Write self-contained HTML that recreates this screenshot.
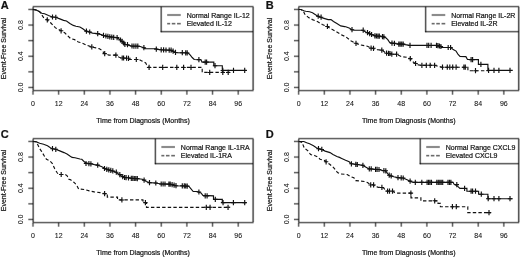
<!DOCTYPE html><html><head><meta charset="utf-8"><style>html,body{margin:0;padding:0;background:#fff;}svg{display:block;filter:grayscale(1);}text{font-family:"Liberation Sans", sans-serif;font-size:7px;fill:#111;stroke:#222;stroke-width:0.22px;}text.t{stroke-width:0.08px;}</style></head><body>
<svg width="520" height="257" viewBox="0 0 520 257">
<rect width="520" height="257" fill="#fff"/>
<g><rect x="28.3" y="86" width="4.85" height="1" fill="#000" fill-opacity="0.19"/><rect x="28.3" y="87" width="4.85" height="1" fill="#000" fill-opacity="0.61"/><rect x="28.3" y="88" width="4.85" height="1" fill="#000" fill-opacity="0.14"/><rect x="28.3" y="70" width="4.85" height="1" fill="#000" fill-opacity="0.05"/><rect x="28.3" y="71" width="4.85" height="1" fill="#000" fill-opacity="0.53"/><rect x="28.3" y="72" width="4.85" height="1" fill="#000" fill-opacity="0.36"/><rect x="28.3" y="55" width="4.85" height="1" fill="#000" fill-opacity="0.30"/><rect x="28.3" y="56" width="4.85" height="1" fill="#000" fill-opacity="0.57"/><rect x="28.3" y="57" width="4.85" height="1" fill="#000" fill-opacity="0.08"/><rect x="28.3" y="39" width="4.85" height="1" fill="#000" fill-opacity="0.11"/><rect x="28.3" y="40" width="4.85" height="1" fill="#000" fill-opacity="0.60"/><rect x="28.3" y="41" width="4.85" height="1" fill="#000" fill-opacity="0.24"/><rect x="28.3" y="23" width="4.85" height="1" fill="#000" fill-opacity="0.02"/><rect x="28.3" y="24" width="4.85" height="1" fill="#000" fill-opacity="0.42"/><rect x="28.3" y="25" width="4.85" height="1" fill="#000" fill-opacity="0.47"/><rect x="28.3" y="26" width="4.85" height="1" fill="#000" fill-opacity="0.04"/><rect x="28.3" y="8" width="4.85" height="1" fill="#000" fill-opacity="0.19"/><rect x="28.3" y="9" width="4.85" height="1" fill="#000" fill-opacity="0.61"/><rect x="28.3" y="10" width="4.85" height="1" fill="#000" fill-opacity="0.14"/><rect x="31" y="90.6" width="1" height="4.1" fill="#000" fill-opacity="0.03"/><rect x="32" y="90.6" width="1" height="4.1" fill="#000" fill-opacity="0.45"/><rect x="33" y="90.6" width="1" height="4.1" fill="#000" fill-opacity="0.45"/><rect x="34" y="90.6" width="1" height="4.1" fill="#000" fill-opacity="0.03"/><rect x="57" y="90.6" width="1" height="4.1" fill="#000" fill-opacity="0.11"/><rect x="58" y="90.6" width="1" height="4.1" fill="#000" fill-opacity="0.60"/><rect x="59" y="90.6" width="1" height="4.1" fill="#000" fill-opacity="0.24"/><rect x="83" y="90.6" width="1" height="4.1" fill="#000" fill-opacity="0.27"/><rect x="84" y="90.6" width="1" height="4.1" fill="#000" fill-opacity="0.58"/><rect x="85" y="90.6" width="1" height="4.1" fill="#000" fill-opacity="0.09"/><rect x="108" y="90.6" width="1" height="4.1" fill="#000" fill-opacity="0.04"/><rect x="109" y="90.6" width="1" height="4.1" fill="#000" fill-opacity="0.47"/><rect x="110" y="90.6" width="1" height="4.1" fill="#000" fill-opacity="0.42"/><rect x="111" y="90.6" width="1" height="4.1" fill="#000" fill-opacity="0.02"/><rect x="134" y="90.6" width="1" height="4.1" fill="#000" fill-opacity="0.13"/><rect x="135" y="90.6" width="1" height="4.1" fill="#000" fill-opacity="0.61"/><rect x="136" y="90.6" width="1" height="4.1" fill="#000" fill-opacity="0.21"/><rect x="160" y="90.6" width="1" height="4.1" fill="#000" fill-opacity="0.30"/><rect x="161" y="90.6" width="1" height="4.1" fill="#000" fill-opacity="0.57"/><rect x="162" y="90.6" width="1" height="4.1" fill="#000" fill-opacity="0.08"/><rect x="185" y="90.6" width="1" height="4.1" fill="#000" fill-opacity="0.04"/><rect x="186" y="90.6" width="1" height="4.1" fill="#000" fill-opacity="0.50"/><rect x="187" y="90.6" width="1" height="4.1" fill="#000" fill-opacity="0.39"/><rect x="211" y="90.6" width="1" height="4.1" fill="#000" fill-opacity="0.14"/><rect x="212" y="90.6" width="1" height="4.1" fill="#000" fill-opacity="0.61"/><rect x="213" y="90.6" width="1" height="4.1" fill="#000" fill-opacity="0.19"/><rect x="237" y="90.6" width="1" height="4.1" fill="#000" fill-opacity="0.33"/><rect x="238" y="90.6" width="1" height="4.1" fill="#000" fill-opacity="0.55"/><rect x="239" y="90.6" width="1" height="4.1" fill="#000" fill-opacity="0.06"/><rect x="161.17" y="6.6" width="91.93" height="25.1" fill="#fff"/><rect x="160" y="6.6" width="1" height="25.6" fill="#000" fill-opacity="0.38"/><rect x="161" y="6.6" width="1" height="25.6" fill="#000" fill-opacity="0.59"/><rect x="162" y="6.6" width="1" height="25.6" fill="#000" fill-opacity="0.06"/><rect x="160.67" y="30" width="92.43" height="1" fill="#000" fill-opacity="0.10"/><rect x="160.67" y="31" width="92.43" height="1" fill="#000" fill-opacity="0.61"/><rect x="160.67" y="32" width="92.43" height="1" fill="#000" fill-opacity="0.28"/><rect x="167.17" y="13" width="13.6" height="1" fill="#000" fill-opacity="0.03"/><rect x="167.17" y="14" width="13.6" height="1" fill="#000" fill-opacity="0.45"/><rect x="167.17" y="15" width="13.6" height="1" fill="#000" fill-opacity="0.45"/><rect x="167.17" y="16" width="13.6" height="1" fill="#000" fill-opacity="0.03"/><rect x="167.17" y="22" width="3" height="1" fill="#000" fill-opacity="0.09"/><rect x="167.17" y="23" width="3" height="1" fill="#000" fill-opacity="0.58"/><rect x="167.17" y="24" width="3" height="1" fill="#000" fill-opacity="0.27"/><rect x="171.77" y="22" width="3.6" height="1" fill="#000" fill-opacity="0.09"/><rect x="171.77" y="23" width="3.6" height="1" fill="#000" fill-opacity="0.58"/><rect x="171.77" y="24" width="3.6" height="1" fill="#000" fill-opacity="0.27"/><rect x="177.07" y="22" width="3.7" height="1" fill="#000" fill-opacity="0.09"/><rect x="177.07" y="23" width="3.7" height="1" fill="#000" fill-opacity="0.58"/><rect x="177.07" y="24" width="3.7" height="1" fill="#000" fill-opacity="0.27"/><rect x="32.65" y="5" width="220.95" height="1" fill="#000" fill-opacity="0.13"/><rect x="32.65" y="6" width="220.95" height="1" fill="#000" fill-opacity="0.61"/><rect x="32.65" y="7" width="220.95" height="1" fill="#000" fill-opacity="0.22"/><rect x="32.65" y="89" width="220.95" height="1" fill="#000" fill-opacity="0.13"/><rect x="32.65" y="90" width="220.95" height="1" fill="#000" fill-opacity="0.61"/><rect x="32.65" y="91" width="220.95" height="1" fill="#000" fill-opacity="0.22"/><rect x="32" y="7.1" width="1" height="83" fill="#000" fill-opacity="0.40"/><rect x="33" y="7.1" width="1" height="83" fill="#000" fill-opacity="0.58"/><rect x="34" y="7.1" width="1" height="83" fill="#000" fill-opacity="0.06"/><rect x="251" y="7.1" width="1" height="83" fill="#000" fill-opacity="0.02"/><rect x="252" y="7.1" width="1" height="83" fill="#000" fill-opacity="0.45"/><rect x="253" y="7.1" width="1" height="83" fill="#000" fill-opacity="0.58"/><rect x="254" y="7.1" width="1" height="83" fill="#000" fill-opacity="0.05"/></g>
<g><text x="0.8" y="9" style="font-size:11px;font-weight:bold">A</text><text transform="translate(23.3 87.45) rotate(-90)" text-anchor="middle" class="t">0.0</text><text transform="translate(23.3 56.25) rotate(-90)" text-anchor="middle" class="t">0.4</text><text transform="translate(23.3 25.05) rotate(-90)" text-anchor="middle" class="t">0.8</text><text x="33" y="105.7" text-anchor="middle" class="t">0</text><text x="58.65" y="105.7" text-anchor="middle" class="t">12</text><text x="84.3" y="105.7" text-anchor="middle" class="t">24</text><text x="109.95" y="105.7" text-anchor="middle" class="t">36</text><text x="135.6" y="105.7" text-anchor="middle" class="t">48</text><text x="161.25" y="105.7" text-anchor="middle" class="t">60</text><text x="186.9" y="105.7" text-anchor="middle" class="t">72</text><text x="212.55" y="105.7" text-anchor="middle" class="t">84</text><text x="238.2" y="105.7" text-anchor="middle" class="t">96</text><text x="143.1" y="122.5" text-anchor="middle">Time from Diagnosis (Months)</text><text transform="translate(6.3 48.5) rotate(-90)" text-anchor="middle">Event-Free Survival</text><text x="186.67" y="17.5">Normal Range IL-12</text><text x="186.67" y="26.1">Elevated IL-12</text><path d="M33 9.45 L35.8 9.9 L38.8 11.3 L39.7 11.8 L43.6 17.6 L47 19.8 L50.4 22.5 L55.5 27.9 L60.8 30.5 L64.7 32.8 L70.6 38.6 L74.5 39.6 L78.3 42 L82.2 43 L87.1 45.4 L91.5 46.9 L95.9 47.9 L99 48.6 L101.5 50 L104.4 53.4 L108.8 55.1 L112.6 55.1 L115.6 55.1 L119.5 57.5 L123.3 58 L128.2 58.3 L129.2 59.5 L138.9 59.5 L141.8 60.9 L145.7 62.9 L146.5 64.5 L148.8 67.4 L202.2 67.4 L202.2 72.4 L230.8 72.4" fill="none" stroke="#111" stroke-width="1.15" stroke-dasharray="3.4 2.2"/><path d="M47.3 17.2v5.2M61.1 28.2v5.2M91.8 44.3v5.2M104.7 51v5.2M115.9 52.5v5.2M122.2 55.4v5.2M123.6 55.4v5.2M126.6 55.6v5.2M128.5 55.7v5.2M136.3 56.9v5.2M149.1 64.8v5.2M162.7 64.8v5.2M176.8 64.8v5.2M183.6 64.8v5.2M191 64.8v5.2M209.7 69.8v5.2M222.8 69.8v5.2M228.2 69.8v5.2" fill="none" stroke="#111" stroke-width="1.15"/><path d="M45.1 19.8h4.4M58.9 30.8h4.4M89.6 46.9h4.4M102.5 53.6h4.4M113.7 55.1h4.4M120 58h4.4M121.4 58h4.4M124.4 58.2h4.4M126.3 58.3h4.4M134.1 59.5h4.4M146.9 67.4h4.4M160.5 67.4h4.4M174.6 67.4h4.4M181.4 67.4h4.4M188.8 67.4h4.4M207.5 72.4h4.4M220.6 72.4h4.4M226 72.4h4.4" fill="none" stroke="#111" stroke-width="1.05"/><path d="M33 9.45 L35.8 9.9 L38.8 11.3 L41.7 13.3 L44.6 13.8 L48.5 15.5 L52.2 17 L55.5 17.3 L59.2 18.6 L63.6 20.4 L66.5 21 L69.9 23.5 L73.3 25.4 L76 26.2 L79.9 27 L82.8 28.8 L85.7 30.9 L89.4 32 L92.5 33.1 L97.4 33.6 L101.3 34.6 L103.6 35.5 L108 36.5 L113.9 37.3 L116.8 37.6 L119.7 39.5 L122.9 42.3 L124.9 44.2 L126.8 44.6 L131 46 L139.5 46.2 L142.4 47.2 L145.3 48.6 L156 48.8 L157 49.4 L160.9 49.8 L165 50 L170.8 50.2 L172.8 51.2 L174.7 52.2 L176.7 52.6 L188.3 53 L190.3 55.1 L192.2 57.5 L194.2 59.5 L201 59.8 L202 62.1 L213.8 62.1 L213.8 65.7 L222.3 65.7 L222.3 70.4 L246.8 70.4" fill="none" stroke="#111" stroke-width="1.15"/><path d="M52.5 14.4v5.2M55.8 14.7v5.2M86.4 28.6v5.2M89.7 29.4v5.2M97.7 31v5.2M103.5 32.8v5.2M105.9 33.4v5.2M107.9 33.8v5.2M109.8 34.2v5.2M111.8 34.5v5.2M113.7 34.7v5.2M117.1 35v5.2M120.5 37.4v5.2M122.1 38.8v5.2M123.7 40.4v5.2M124.9 41.8v5.2M127.5 42.1v5.2M132 43.4v5.2M133.9 43.5v5.2M135.9 43.5v5.2M137.8 43.6v5.2M143.9 45.1v5.2M156.3 46.5v5.2M161.2 47.2v5.2M163.6 47.3v5.2M166 47.4v5.2M169.2 47.5v5.2M171.1 47.6v5.2M173.1 48.6v5.2M175.5 49.8v5.2M182.3 50.1v5.2M185.7 50.2v5.2M187.2 50.3v5.2M198.9 57v5.2M205.2 59.5v5.2M206.6 59.5v5.2M215 63.1v5.2M222.8 67.8v5.2M233.5 67.8v5.2M244.7 67.8v5.2" fill="none" stroke="#111" stroke-width="1.15"/><path d="M50.3 17h4.4M53.6 17.3h4.4M84.2 31.2h4.4M87.5 32h4.4M95.5 33.6h4.4M101.3 35.4h4.4M103.7 36h4.4M105.7 36.4h4.4M107.6 36.8h4.4M109.6 37.1h4.4M111.5 37.3h4.4M114.9 37.6h4.4M118.3 40h4.4M119.9 41.4h4.4M121.5 43h4.4M122.7 44.4h4.4M125.3 44.7h4.4M129.8 46h4.4M131.7 46.1h4.4M133.7 46.1h4.4M135.6 46.2h4.4M141.7 47.7h4.4M154.1 49.1h4.4M159 49.8h4.4M161.4 49.9h4.4M163.8 50h4.4M167 50.1h4.4M168.9 50.2h4.4M170.9 51.2h4.4M173.3 52.4h4.4M180.1 52.7h4.4M183.5 52.8h4.4M185 52.9h4.4M196.7 59.6h4.4M203 62.1h4.4M204.4 62.1h4.4M212.8 65.7h4.4M220.6 70.4h4.4M231.3 70.4h4.4M242.5 70.4h4.4" fill="none" stroke="#111" stroke-width="1.05"/></g>
<g><rect x="293.95" y="86" width="4.85" height="1" fill="#000" fill-opacity="0.19"/><rect x="293.95" y="87" width="4.85" height="1" fill="#000" fill-opacity="0.61"/><rect x="293.95" y="88" width="4.85" height="1" fill="#000" fill-opacity="0.14"/><rect x="293.95" y="70" width="4.85" height="1" fill="#000" fill-opacity="0.05"/><rect x="293.95" y="71" width="4.85" height="1" fill="#000" fill-opacity="0.53"/><rect x="293.95" y="72" width="4.85" height="1" fill="#000" fill-opacity="0.36"/><rect x="293.95" y="55" width="4.85" height="1" fill="#000" fill-opacity="0.30"/><rect x="293.95" y="56" width="4.85" height="1" fill="#000" fill-opacity="0.57"/><rect x="293.95" y="57" width="4.85" height="1" fill="#000" fill-opacity="0.08"/><rect x="293.95" y="39" width="4.85" height="1" fill="#000" fill-opacity="0.11"/><rect x="293.95" y="40" width="4.85" height="1" fill="#000" fill-opacity="0.60"/><rect x="293.95" y="41" width="4.85" height="1" fill="#000" fill-opacity="0.24"/><rect x="293.95" y="23" width="4.85" height="1" fill="#000" fill-opacity="0.02"/><rect x="293.95" y="24" width="4.85" height="1" fill="#000" fill-opacity="0.42"/><rect x="293.95" y="25" width="4.85" height="1" fill="#000" fill-opacity="0.47"/><rect x="293.95" y="26" width="4.85" height="1" fill="#000" fill-opacity="0.04"/><rect x="293.95" y="8" width="4.85" height="1" fill="#000" fill-opacity="0.19"/><rect x="293.95" y="9" width="4.85" height="1" fill="#000" fill-opacity="0.61"/><rect x="293.95" y="10" width="4.85" height="1" fill="#000" fill-opacity="0.14"/><rect x="297" y="90.6" width="1" height="4.1" fill="#000" fill-opacity="0.11"/><rect x="298" y="90.6" width="1" height="4.1" fill="#000" fill-opacity="0.60"/><rect x="299" y="90.6" width="1" height="4.1" fill="#000" fill-opacity="0.24"/><rect x="323" y="90.6" width="1" height="4.1" fill="#000" fill-opacity="0.27"/><rect x="324" y="90.6" width="1" height="4.1" fill="#000" fill-opacity="0.58"/><rect x="325" y="90.6" width="1" height="4.1" fill="#000" fill-opacity="0.09"/><rect x="348" y="90.6" width="1" height="4.1" fill="#000" fill-opacity="0.04"/><rect x="349" y="90.6" width="1" height="4.1" fill="#000" fill-opacity="0.47"/><rect x="350" y="90.6" width="1" height="4.1" fill="#000" fill-opacity="0.42"/><rect x="351" y="90.6" width="1" height="4.1" fill="#000" fill-opacity="0.02"/><rect x="374" y="90.6" width="1" height="4.1" fill="#000" fill-opacity="0.13"/><rect x="375" y="90.6" width="1" height="4.1" fill="#000" fill-opacity="0.61"/><rect x="376" y="90.6" width="1" height="4.1" fill="#000" fill-opacity="0.21"/><rect x="400" y="90.6" width="1" height="4.1" fill="#000" fill-opacity="0.30"/><rect x="401" y="90.6" width="1" height="4.1" fill="#000" fill-opacity="0.57"/><rect x="402" y="90.6" width="1" height="4.1" fill="#000" fill-opacity="0.08"/><rect x="425" y="90.6" width="1" height="4.1" fill="#000" fill-opacity="0.04"/><rect x="426" y="90.6" width="1" height="4.1" fill="#000" fill-opacity="0.50"/><rect x="427" y="90.6" width="1" height="4.1" fill="#000" fill-opacity="0.39"/><rect x="451" y="90.6" width="1" height="4.1" fill="#000" fill-opacity="0.14"/><rect x="452" y="90.6" width="1" height="4.1" fill="#000" fill-opacity="0.61"/><rect x="453" y="90.6" width="1" height="4.1" fill="#000" fill-opacity="0.19"/><rect x="477" y="90.6" width="1" height="4.1" fill="#000" fill-opacity="0.33"/><rect x="478" y="90.6" width="1" height="4.1" fill="#000" fill-opacity="0.55"/><rect x="479" y="90.6" width="1" height="4.1" fill="#000" fill-opacity="0.06"/><rect x="502" y="90.6" width="1" height="4.1" fill="#000" fill-opacity="0.05"/><rect x="503" y="90.6" width="1" height="4.1" fill="#000" fill-opacity="0.53"/><rect x="504" y="90.6" width="1" height="4.1" fill="#000" fill-opacity="0.36"/><rect x="425.66" y="6.6" width="93.09" height="25.1" fill="#fff"/><rect x="424" y="6.6" width="1" height="25.6" fill="#000" fill-opacity="0.11"/><rect x="425" y="6.6" width="1" height="25.6" fill="#000" fill-opacity="0.66"/><rect x="426" y="6.6" width="1" height="25.6" fill="#000" fill-opacity="0.27"/><rect x="425.16" y="30" width="93.59" height="1" fill="#000" fill-opacity="0.10"/><rect x="425.16" y="31" width="93.59" height="1" fill="#000" fill-opacity="0.61"/><rect x="425.16" y="32" width="93.59" height="1" fill="#000" fill-opacity="0.28"/><rect x="431.66" y="13" width="13.6" height="1" fill="#000" fill-opacity="0.03"/><rect x="431.66" y="14" width="13.6" height="1" fill="#000" fill-opacity="0.45"/><rect x="431.66" y="15" width="13.6" height="1" fill="#000" fill-opacity="0.45"/><rect x="431.66" y="16" width="13.6" height="1" fill="#000" fill-opacity="0.03"/><rect x="431.66" y="22" width="3" height="1" fill="#000" fill-opacity="0.09"/><rect x="431.66" y="23" width="3" height="1" fill="#000" fill-opacity="0.58"/><rect x="431.66" y="24" width="3" height="1" fill="#000" fill-opacity="0.27"/><rect x="436.26" y="22" width="3.6" height="1" fill="#000" fill-opacity="0.09"/><rect x="436.26" y="23" width="3.6" height="1" fill="#000" fill-opacity="0.58"/><rect x="436.26" y="24" width="3.6" height="1" fill="#000" fill-opacity="0.27"/><rect x="441.56" y="22" width="3.7" height="1" fill="#000" fill-opacity="0.09"/><rect x="441.56" y="23" width="3.7" height="1" fill="#000" fill-opacity="0.58"/><rect x="441.56" y="24" width="3.7" height="1" fill="#000" fill-opacity="0.27"/><rect x="298.3" y="5" width="220.95" height="1" fill="#000" fill-opacity="0.13"/><rect x="298.3" y="6" width="220.95" height="1" fill="#000" fill-opacity="0.61"/><rect x="298.3" y="7" width="220.95" height="1" fill="#000" fill-opacity="0.22"/><rect x="298.3" y="89" width="220.95" height="1" fill="#000" fill-opacity="0.13"/><rect x="298.3" y="90" width="220.95" height="1" fill="#000" fill-opacity="0.61"/><rect x="298.3" y="91" width="220.95" height="1" fill="#000" fill-opacity="0.22"/><rect x="297" y="7.1" width="1" height="83" fill="#000" fill-opacity="0.07"/><rect x="298" y="7.1" width="1" height="83" fill="#000" fill-opacity="0.60"/><rect x="299" y="7.1" width="1" height="83" fill="#000" fill-opacity="0.36"/><rect x="517" y="7.1" width="1" height="83" fill="#000" fill-opacity="0.09"/><rect x="518" y="7.1" width="1" height="83" fill="#000" fill-opacity="0.66"/><rect x="519" y="7.1" width="1" height="83" fill="#000" fill-opacity="0.35"/></g>
<g><text x="265.85" y="9" style="font-size:11px;font-weight:bold">B</text><text transform="translate(288.95 87.45) rotate(-90)" text-anchor="middle" class="t">0.0</text><text transform="translate(288.95 56.25) rotate(-90)" text-anchor="middle" class="t">0.4</text><text transform="translate(288.95 25.05) rotate(-90)" text-anchor="middle" class="t">0.8</text><text x="298.65" y="105.7" text-anchor="middle" class="t">0</text><text x="324.3" y="105.7" text-anchor="middle" class="t">12</text><text x="349.95" y="105.7" text-anchor="middle" class="t">24</text><text x="375.6" y="105.7" text-anchor="middle" class="t">36</text><text x="401.25" y="105.7" text-anchor="middle" class="t">48</text><text x="426.9" y="105.7" text-anchor="middle" class="t">60</text><text x="452.55" y="105.7" text-anchor="middle" class="t">72</text><text x="478.2" y="105.7" text-anchor="middle" class="t">84</text><text x="503.85" y="105.7" text-anchor="middle" class="t">96</text><text x="408.75" y="122.5" text-anchor="middle">Time from Diagnosis (Months)</text><text transform="translate(271.95 48.5) rotate(-90)" text-anchor="middle">Event-Free Survival</text><text x="451.16" y="17.5">Normal Range IL-2R</text><text x="451.16" y="26.1">Elevated IL-2R</text><path d="M298.9 9.45 L300.9 9.5 L303.3 11 L304.8 14.2 L308.6 17.6 L312.5 19.6 L317.4 21.5 L322.3 24.5 L327.1 26.4 L332 29.3 L336 31.5 L341 34.6 L346 36.9 L350.8 40.8 L355.7 43.3 L359.6 44.7 L367.4 46.2 L370.8 48.1 L377.1 49.6 L381.5 50.1 L383.9 51.5 L386.3 53.2 L390.7 53.5 L393.6 54.2 L396.3 54.2 L401.7 56.7 L406.5 57.2 L410 58.6 L412.4 61.5 L415.3 63.5 L418.2 64.9 L421.6 65.3 L434.4 65.3 L437.8 66.2 L442.2 67.2 L467.9 67.2 L467.9 70.7 L488 70.7" fill="none" stroke="#111" stroke-width="1.15" stroke-dasharray="3.4 2.2"/><path d="M327.4 23.8v5.2M356 40.7v5.2M371.1 45.5v5.2M373.5 45.7v5.2M381.8 47.5v5.2M386.6 50.6v5.2M388.6 50.8v5.2M390 50.9v5.2M391.8 51.6v5.2M396.6 51.6v5.2M410.3 56v5.2M415.6 60.9v5.2M421.9 62.7v5.2M426.3 62.7v5.2M430.2 62.7v5.2M434.6 62.7v5.2M442.5 64.6v5.2M447.3 64.6v5.2M449.8 64.6v5.2M452.7 64.6v5.2M456.1 64.6v5.2M463.9 64.6v5.2M465.3 64.6v5.2M475.5 68.1v5.2" fill="none" stroke="#111" stroke-width="1.15"/><path d="M325.2 26.4h4.4M353.8 43.3h4.4M368.9 48.1h4.4M371.3 48.3h4.4M379.6 50.1h4.4M384.4 53.2h4.4M386.4 53.4h4.4M387.8 53.5h4.4M389.6 54.2h4.4M394.4 54.2h4.4M408.1 58.6h4.4M413.4 63.5h4.4M419.7 65.3h4.4M424.1 65.3h4.4M428 65.3h4.4M432.4 65.3h4.4M440.3 67.2h4.4M445.1 67.2h4.4M447.6 67.2h4.4M450.5 67.2h4.4M453.9 67.2h4.4M461.7 67.2h4.4M463.1 67.2h4.4M473.3 70.7h4.4" fill="none" stroke="#111" stroke-width="1.05"/><path d="M298.9 9.45 L300.9 9.5 L303.8 10.8 L305.7 11.3 L309.6 11.8 L312.5 12.8 L315.5 14.7 L317.9 16.2 L320.8 17.2 L323.2 18.1 L328.1 19.6 L331 19.6 L333.5 21.5 L336.9 23.5 L340.7 25.9 L344.6 26.6 L345.8 26.8 L349.7 28.3 L351.7 29.7 L354.6 30.2 L362.4 30.2 L366.3 32.2 L369.2 33.6 L373.1 35.1 L375.5 36 L380.9 36.2 L382.8 36.8 L385.8 37.8 L387.8 39.7 L389.7 42.6 L391.7 43.1 L396 43.6 L402.9 44.1 L405.3 44.6 L409.7 45.4 L436 45.4 L440.6 46.5 L441.5 47.5 L451 47.5 L453.2 49.6 L456.1 51.1 L458.1 54.5 L460 56.4 L465.9 56.6 L467.5 59.5 L478.4 59.6 L478.4 64.4 L487.9 64.4 L487.9 70.4 L512.7 70.4" fill="none" stroke="#111" stroke-width="1.15"/><path d="M318.2 13.6v5.2M321.1 14.6v5.2M352 27.1v5.2M363.2 27.6v5.2M367.5 30v5.2M369.7 31.1v5.2M371.6 31.9v5.2M374.9 33.2v5.2M376.4 33.4v5.2M377.9 33.5v5.2M379.3 33.5v5.2M382.5 34v5.2M383.9 34.3v5.2M392 40.5v5.2M394.4 40.7v5.2M398.8 41.5v5.2M400.2 41.5v5.2M401.7 41.5v5.2M403.2 41.5v5.2M410 42.8v5.2M427 42.8v5.2M428.7 42.8v5.2M431.1 42.8v5.2M436.5 42.8v5.2M437.9 43v5.2M439.4 43.4v5.2M440.9 43.9v5.2M448.2 44.9v5.2M450.6 44.9v5.2M471.1 57v5.2M472.6 57v5.2M480.9 61.8v5.2M488.6 67.8v5.2M494 67.8v5.2M498.9 67.8v5.2M510 67.8v5.2" fill="none" stroke="#111" stroke-width="1.15"/><path d="M316 16.2h4.4M318.9 17.2h4.4M349.8 29.7h4.4M361 30.2h4.4M365.3 32.6h4.4M367.5 33.7h4.4M369.4 34.5h4.4M372.7 35.8h4.4M374.2 36h4.4M375.7 36.1h4.4M377.1 36.1h4.4M380.3 36.6h4.4M381.7 36.9h4.4M389.8 43.1h4.4M392.2 43.3h4.4M396.6 44.1h4.4M398 44.1h4.4M399.5 44.1h4.4M401 44.1h4.4M407.8 45.4h4.4M424.8 45.4h4.4M426.5 45.4h4.4M428.9 45.4h4.4M434.3 45.4h4.4M435.7 45.6h4.4M437.2 46h4.4M438.7 46.5h4.4M446 47.5h4.4M448.4 47.5h4.4M468.9 59.6h4.4M470.4 59.6h4.4M478.7 64.4h4.4M486.4 70.4h4.4M491.8 70.4h4.4M496.7 70.4h4.4M507.8 70.4h4.4" fill="none" stroke="#111" stroke-width="1.05"/></g>
<g><rect x="28.3" y="218" width="4.85" height="1" fill="#000" fill-opacity="0.19"/><rect x="28.3" y="219" width="4.85" height="1" fill="#000" fill-opacity="0.61"/><rect x="28.3" y="220" width="4.85" height="1" fill="#000" fill-opacity="0.14"/><rect x="28.3" y="202" width="4.85" height="1" fill="#000" fill-opacity="0.05"/><rect x="28.3" y="203" width="4.85" height="1" fill="#000" fill-opacity="0.53"/><rect x="28.3" y="204" width="4.85" height="1" fill="#000" fill-opacity="0.36"/><rect x="28.3" y="187" width="4.85" height="1" fill="#000" fill-opacity="0.30"/><rect x="28.3" y="188" width="4.85" height="1" fill="#000" fill-opacity="0.57"/><rect x="28.3" y="189" width="4.85" height="1" fill="#000" fill-opacity="0.08"/><rect x="28.3" y="171" width="4.85" height="1" fill="#000" fill-opacity="0.11"/><rect x="28.3" y="172" width="4.85" height="1" fill="#000" fill-opacity="0.60"/><rect x="28.3" y="173" width="4.85" height="1" fill="#000" fill-opacity="0.24"/><rect x="28.3" y="155" width="4.85" height="1" fill="#000" fill-opacity="0.02"/><rect x="28.3" y="156" width="4.85" height="1" fill="#000" fill-opacity="0.42"/><rect x="28.3" y="157" width="4.85" height="1" fill="#000" fill-opacity="0.47"/><rect x="28.3" y="158" width="4.85" height="1" fill="#000" fill-opacity="0.04"/><rect x="28.3" y="140" width="4.85" height="1" fill="#000" fill-opacity="0.19"/><rect x="28.3" y="141" width="4.85" height="1" fill="#000" fill-opacity="0.61"/><rect x="28.3" y="142" width="4.85" height="1" fill="#000" fill-opacity="0.14"/><rect x="31" y="222.6" width="1" height="4.1" fill="#000" fill-opacity="0.03"/><rect x="32" y="222.6" width="1" height="4.1" fill="#000" fill-opacity="0.45"/><rect x="33" y="222.6" width="1" height="4.1" fill="#000" fill-opacity="0.45"/><rect x="34" y="222.6" width="1" height="4.1" fill="#000" fill-opacity="0.03"/><rect x="57" y="222.6" width="1" height="4.1" fill="#000" fill-opacity="0.11"/><rect x="58" y="222.6" width="1" height="4.1" fill="#000" fill-opacity="0.60"/><rect x="59" y="222.6" width="1" height="4.1" fill="#000" fill-opacity="0.24"/><rect x="83" y="222.6" width="1" height="4.1" fill="#000" fill-opacity="0.27"/><rect x="84" y="222.6" width="1" height="4.1" fill="#000" fill-opacity="0.58"/><rect x="85" y="222.6" width="1" height="4.1" fill="#000" fill-opacity="0.09"/><rect x="108" y="222.6" width="1" height="4.1" fill="#000" fill-opacity="0.04"/><rect x="109" y="222.6" width="1" height="4.1" fill="#000" fill-opacity="0.47"/><rect x="110" y="222.6" width="1" height="4.1" fill="#000" fill-opacity="0.42"/><rect x="111" y="222.6" width="1" height="4.1" fill="#000" fill-opacity="0.02"/><rect x="134" y="222.6" width="1" height="4.1" fill="#000" fill-opacity="0.13"/><rect x="135" y="222.6" width="1" height="4.1" fill="#000" fill-opacity="0.61"/><rect x="136" y="222.6" width="1" height="4.1" fill="#000" fill-opacity="0.21"/><rect x="160" y="222.6" width="1" height="4.1" fill="#000" fill-opacity="0.30"/><rect x="161" y="222.6" width="1" height="4.1" fill="#000" fill-opacity="0.57"/><rect x="162" y="222.6" width="1" height="4.1" fill="#000" fill-opacity="0.08"/><rect x="185" y="222.6" width="1" height="4.1" fill="#000" fill-opacity="0.04"/><rect x="186" y="222.6" width="1" height="4.1" fill="#000" fill-opacity="0.50"/><rect x="187" y="222.6" width="1" height="4.1" fill="#000" fill-opacity="0.39"/><rect x="211" y="222.6" width="1" height="4.1" fill="#000" fill-opacity="0.14"/><rect x="212" y="222.6" width="1" height="4.1" fill="#000" fill-opacity="0.61"/><rect x="213" y="222.6" width="1" height="4.1" fill="#000" fill-opacity="0.19"/><rect x="237" y="222.6" width="1" height="4.1" fill="#000" fill-opacity="0.33"/><rect x="238" y="222.6" width="1" height="4.1" fill="#000" fill-opacity="0.55"/><rect x="239" y="222.6" width="1" height="4.1" fill="#000" fill-opacity="0.06"/><rect x="155.34" y="138.6" width="97.76" height="25.1" fill="#fff"/><rect x="154" y="138.6" width="1" height="25.6" fill="#000" fill-opacity="0.27"/><rect x="155" y="138.6" width="1" height="25.6" fill="#000" fill-opacity="0.66"/><rect x="156" y="138.6" width="1" height="25.6" fill="#000" fill-opacity="0.12"/><rect x="154.84" y="162" width="98.26" height="1" fill="#000" fill-opacity="0.10"/><rect x="154.84" y="163" width="98.26" height="1" fill="#000" fill-opacity="0.61"/><rect x="154.84" y="164" width="98.26" height="1" fill="#000" fill-opacity="0.28"/><rect x="161.34" y="145" width="13.6" height="1" fill="#000" fill-opacity="0.03"/><rect x="161.34" y="146" width="13.6" height="1" fill="#000" fill-opacity="0.45"/><rect x="161.34" y="147" width="13.6" height="1" fill="#000" fill-opacity="0.45"/><rect x="161.34" y="148" width="13.6" height="1" fill="#000" fill-opacity="0.03"/><rect x="161.34" y="154" width="3" height="1" fill="#000" fill-opacity="0.09"/><rect x="161.34" y="155" width="3" height="1" fill="#000" fill-opacity="0.58"/><rect x="161.34" y="156" width="3" height="1" fill="#000" fill-opacity="0.27"/><rect x="165.94" y="154" width="3.6" height="1" fill="#000" fill-opacity="0.09"/><rect x="165.94" y="155" width="3.6" height="1" fill="#000" fill-opacity="0.58"/><rect x="165.94" y="156" width="3.6" height="1" fill="#000" fill-opacity="0.27"/><rect x="171.24" y="154" width="3.7" height="1" fill="#000" fill-opacity="0.09"/><rect x="171.24" y="155" width="3.7" height="1" fill="#000" fill-opacity="0.58"/><rect x="171.24" y="156" width="3.7" height="1" fill="#000" fill-opacity="0.27"/><rect x="32.65" y="137" width="220.95" height="1" fill="#000" fill-opacity="0.13"/><rect x="32.65" y="138" width="220.95" height="1" fill="#000" fill-opacity="0.61"/><rect x="32.65" y="139" width="220.95" height="1" fill="#000" fill-opacity="0.22"/><rect x="32.65" y="221" width="220.95" height="1" fill="#000" fill-opacity="0.13"/><rect x="32.65" y="222" width="220.95" height="1" fill="#000" fill-opacity="0.61"/><rect x="32.65" y="223" width="220.95" height="1" fill="#000" fill-opacity="0.22"/><rect x="32" y="139.1" width="1" height="83" fill="#000" fill-opacity="0.40"/><rect x="33" y="139.1" width="1" height="83" fill="#000" fill-opacity="0.58"/><rect x="34" y="139.1" width="1" height="83" fill="#000" fill-opacity="0.06"/><rect x="251" y="139.1" width="1" height="83" fill="#000" fill-opacity="0.02"/><rect x="252" y="139.1" width="1" height="83" fill="#000" fill-opacity="0.45"/><rect x="253" y="139.1" width="1" height="83" fill="#000" fill-opacity="0.58"/><rect x="254" y="139.1" width="1" height="83" fill="#000" fill-opacity="0.05"/></g>
<g><text x="0.8" y="137.8" style="font-size:11px;font-weight:bold">C</text><text transform="translate(23.3 219.45) rotate(-90)" text-anchor="middle" class="t">0.0</text><text transform="translate(23.3 188.25) rotate(-90)" text-anchor="middle" class="t">0.4</text><text transform="translate(23.3 157.05) rotate(-90)" text-anchor="middle" class="t">0.8</text><text x="33" y="237.7" text-anchor="middle" class="t">0</text><text x="58.65" y="237.7" text-anchor="middle" class="t">12</text><text x="84.3" y="237.7" text-anchor="middle" class="t">24</text><text x="109.95" y="237.7" text-anchor="middle" class="t">36</text><text x="135.6" y="237.7" text-anchor="middle" class="t">48</text><text x="161.25" y="237.7" text-anchor="middle" class="t">60</text><text x="186.9" y="237.7" text-anchor="middle" class="t">72</text><text x="212.55" y="237.7" text-anchor="middle" class="t">84</text><text x="238.2" y="237.7" text-anchor="middle" class="t">96</text><text x="143.1" y="254.5" text-anchor="middle">Time from Diagnosis (Months)</text><text transform="translate(6.3 180.5) rotate(-90)" text-anchor="middle">Event-Free Survival</text><text x="180.84" y="149.5">Normal Range IL-1RA</text><text x="180.84" y="158.1">Elevated IL-1RA</text><path d="M33 141.45 L35.8 141.6 L37.8 144.8 L39.7 148.7 L41.7 151.6 L44.6 156.5 L46.5 159.4 L49.7 160.8 L52.2 163.3 L54.6 168.6 L57 172.5 L58.5 174.5 L65.3 174.5 L67.2 175.9 L68.9 179.2 L70.2 179.6 L73.8 182.2 L76.7 185.1 L78.6 189 L84.5 189.5 L89.3 190.9 L94.2 191.9 L100 192.6 L104.3 193.6 L107.3 193.6 L107.3 197.1 L117.5 197.1 L117.5 199.9 L142.9 199.9 L143.3 202.6 L146.5 202.6 L146.5 207.3 L230 207.3" fill="none" stroke="#111" stroke-width="1.15" stroke-dasharray="3.4 2.2"/><path d="M61.2 171.9v5.2M104.6 191v5.2M121.9 197.3v5.2M145.4 200v5.2M206.3 204.7v5.2M210.05 204.7v5.2M228.05 204.7v5.2" fill="none" stroke="#111" stroke-width="1.15"/><path d="M59 174.5h4.4M102.4 193.6h4.4M119.7 199.9h4.4M143.2 202.6h4.4M204.1 207.3h4.4M207.85 207.3h4.4M225.85 207.3h4.4" fill="none" stroke="#111" stroke-width="1.05"/><path d="M33 141.45 L35.8 141.6 L39.7 143.3 L43.6 144.3 L47.5 145.8 L50.4 147.7 L52.2 148.7 L55.5 149.3 L59.2 150.6 L64 152.6 L67 154 L69.9 156 L72.1 157.4 L75 157.8 L79.9 159 L81.8 159.3 L84.7 162.2 L88.6 163.6 L90.6 163.8 L94.5 164.6 L97.4 165.1 L101.3 166.5 L104.2 168 L108 169.6 L113.6 171.2 L116 172.2 L119.5 174.6 L122.4 176.6 L124.3 177.5 L128.2 177.8 L131 178.3 L137 178.6 L138.5 178.7 L142.4 179.2 L143.8 180.1 L146.3 181.6 L149.2 182.6 L155.5 183 L160.9 184 L168.6 184.1 L171.8 184.6 L175.7 185.7 L188.8 186.2 L190.8 188.6 L193.2 191.5 L197.1 191.5 L201 193 L202.9 195.4 L213.5 195.9 L213.5 199.3 L222.3 199.3 L222.3 202.6 L246.3 202.6" fill="none" stroke="#111" stroke-width="1.15"/><path d="M52.5 146.1v5.2M55.8 146.7v5.2M86 160.9v5.2M88.9 161v5.2M90.9 161.2v5.2M97.7 162.5v5.2M104.5 165.9v5.2M106.8 166.7v5.2M108.8 167.3v5.2M110.8 167.8v5.2M112.8 168.3v5.2M116.3 169.6v5.2M119.8 172v5.2M122.7 174v5.2M124.6 174.9v5.2M126.1 175.1v5.2M128.5 175.2v5.2M131.3 175.7v5.2M132.8 175.8v5.2M134.3 175.9v5.2M135.8 175.9v5.2M137.3 176v5.2M144.1 177.5v5.2M149.5 180v5.2M155.8 180.4v5.2M161.2 181.4v5.2M163.1 181.4v5.2M165 181.4v5.2M168.9 181.5v5.2M170.2 181.6v5.2M172.1 182v5.2M174.1 182.6v5.2M176 183.1v5.2M182.3 183.2v5.2M184.3 183.3v5.2M185.7 183.4v5.2M187.2 183.5v5.2M198.9 189.4v5.2M205.2 193.3v5.2M207.1 193.3v5.2M215.3 196.7v5.2M223.05 200v5.2M233.4 200v5.2M244.7 200v5.2" fill="none" stroke="#111" stroke-width="1.15"/><path d="M50.3 148.7h4.4M53.6 149.3h4.4M83.8 163.5h4.4M86.7 163.6h4.4M88.7 163.8h4.4M95.5 165.1h4.4M102.3 168.5h4.4M104.6 169.3h4.4M106.6 169.9h4.4M108.6 170.4h4.4M110.6 170.9h4.4M114.1 172.2h4.4M117.6 174.6h4.4M120.5 176.6h4.4M122.4 177.5h4.4M123.9 177.7h4.4M126.3 177.8h4.4M129.1 178.3h4.4M130.6 178.4h4.4M132.1 178.5h4.4M133.6 178.5h4.4M135.1 178.6h4.4M141.9 180.1h4.4M147.3 182.6h4.4M153.6 183h4.4M159 184h4.4M160.9 184h4.4M162.8 184h4.4M166.7 184.1h4.4M168 184.2h4.4M169.9 184.6h4.4M171.9 185.2h4.4M173.8 185.7h4.4M180.1 185.8h4.4M182.1 185.9h4.4M183.5 186h4.4M185 186.1h4.4M196.7 192h4.4M203 195.9h4.4M204.9 195.9h4.4M213.1 199.3h4.4M220.85 202.6h4.4M231.2 202.6h4.4M242.5 202.6h4.4" fill="none" stroke="#111" stroke-width="1.05"/></g>
<g><rect x="293.95" y="218" width="4.85" height="1" fill="#000" fill-opacity="0.19"/><rect x="293.95" y="219" width="4.85" height="1" fill="#000" fill-opacity="0.61"/><rect x="293.95" y="220" width="4.85" height="1" fill="#000" fill-opacity="0.14"/><rect x="293.95" y="202" width="4.85" height="1" fill="#000" fill-opacity="0.05"/><rect x="293.95" y="203" width="4.85" height="1" fill="#000" fill-opacity="0.53"/><rect x="293.95" y="204" width="4.85" height="1" fill="#000" fill-opacity="0.36"/><rect x="293.95" y="187" width="4.85" height="1" fill="#000" fill-opacity="0.30"/><rect x="293.95" y="188" width="4.85" height="1" fill="#000" fill-opacity="0.57"/><rect x="293.95" y="189" width="4.85" height="1" fill="#000" fill-opacity="0.08"/><rect x="293.95" y="171" width="4.85" height="1" fill="#000" fill-opacity="0.11"/><rect x="293.95" y="172" width="4.85" height="1" fill="#000" fill-opacity="0.60"/><rect x="293.95" y="173" width="4.85" height="1" fill="#000" fill-opacity="0.24"/><rect x="293.95" y="155" width="4.85" height="1" fill="#000" fill-opacity="0.02"/><rect x="293.95" y="156" width="4.85" height="1" fill="#000" fill-opacity="0.42"/><rect x="293.95" y="157" width="4.85" height="1" fill="#000" fill-opacity="0.47"/><rect x="293.95" y="158" width="4.85" height="1" fill="#000" fill-opacity="0.04"/><rect x="293.95" y="140" width="4.85" height="1" fill="#000" fill-opacity="0.19"/><rect x="293.95" y="141" width="4.85" height="1" fill="#000" fill-opacity="0.61"/><rect x="293.95" y="142" width="4.85" height="1" fill="#000" fill-opacity="0.14"/><rect x="297" y="222.6" width="1" height="4.1" fill="#000" fill-opacity="0.11"/><rect x="298" y="222.6" width="1" height="4.1" fill="#000" fill-opacity="0.60"/><rect x="299" y="222.6" width="1" height="4.1" fill="#000" fill-opacity="0.24"/><rect x="323" y="222.6" width="1" height="4.1" fill="#000" fill-opacity="0.27"/><rect x="324" y="222.6" width="1" height="4.1" fill="#000" fill-opacity="0.58"/><rect x="325" y="222.6" width="1" height="4.1" fill="#000" fill-opacity="0.09"/><rect x="348" y="222.6" width="1" height="4.1" fill="#000" fill-opacity="0.04"/><rect x="349" y="222.6" width="1" height="4.1" fill="#000" fill-opacity="0.47"/><rect x="350" y="222.6" width="1" height="4.1" fill="#000" fill-opacity="0.42"/><rect x="351" y="222.6" width="1" height="4.1" fill="#000" fill-opacity="0.02"/><rect x="374" y="222.6" width="1" height="4.1" fill="#000" fill-opacity="0.13"/><rect x="375" y="222.6" width="1" height="4.1" fill="#000" fill-opacity="0.61"/><rect x="376" y="222.6" width="1" height="4.1" fill="#000" fill-opacity="0.21"/><rect x="400" y="222.6" width="1" height="4.1" fill="#000" fill-opacity="0.30"/><rect x="401" y="222.6" width="1" height="4.1" fill="#000" fill-opacity="0.57"/><rect x="402" y="222.6" width="1" height="4.1" fill="#000" fill-opacity="0.08"/><rect x="425" y="222.6" width="1" height="4.1" fill="#000" fill-opacity="0.04"/><rect x="426" y="222.6" width="1" height="4.1" fill="#000" fill-opacity="0.50"/><rect x="427" y="222.6" width="1" height="4.1" fill="#000" fill-opacity="0.39"/><rect x="451" y="222.6" width="1" height="4.1" fill="#000" fill-opacity="0.14"/><rect x="452" y="222.6" width="1" height="4.1" fill="#000" fill-opacity="0.61"/><rect x="453" y="222.6" width="1" height="4.1" fill="#000" fill-opacity="0.19"/><rect x="477" y="222.6" width="1" height="4.1" fill="#000" fill-opacity="0.33"/><rect x="478" y="222.6" width="1" height="4.1" fill="#000" fill-opacity="0.55"/><rect x="479" y="222.6" width="1" height="4.1" fill="#000" fill-opacity="0.06"/><rect x="502" y="222.6" width="1" height="4.1" fill="#000" fill-opacity="0.05"/><rect x="503" y="222.6" width="1" height="4.1" fill="#000" fill-opacity="0.53"/><rect x="504" y="222.6" width="1" height="4.1" fill="#000" fill-opacity="0.36"/><rect x="420.21" y="138.6" width="98.54" height="25.1" fill="#fff"/><rect x="419" y="138.6" width="1" height="25.6" fill="#000" fill-opacity="0.35"/><rect x="420" y="138.6" width="1" height="25.6" fill="#000" fill-opacity="0.61"/><rect x="421" y="138.6" width="1" height="25.6" fill="#000" fill-opacity="0.07"/><rect x="419.71" y="162" width="99.04" height="1" fill="#000" fill-opacity="0.10"/><rect x="419.71" y="163" width="99.04" height="1" fill="#000" fill-opacity="0.61"/><rect x="419.71" y="164" width="99.04" height="1" fill="#000" fill-opacity="0.28"/><rect x="426.21" y="145" width="13.6" height="1" fill="#000" fill-opacity="0.03"/><rect x="426.21" y="146" width="13.6" height="1" fill="#000" fill-opacity="0.45"/><rect x="426.21" y="147" width="13.6" height="1" fill="#000" fill-opacity="0.45"/><rect x="426.21" y="148" width="13.6" height="1" fill="#000" fill-opacity="0.03"/><rect x="426.21" y="154" width="3" height="1" fill="#000" fill-opacity="0.09"/><rect x="426.21" y="155" width="3" height="1" fill="#000" fill-opacity="0.58"/><rect x="426.21" y="156" width="3" height="1" fill="#000" fill-opacity="0.27"/><rect x="430.81" y="154" width="3.6" height="1" fill="#000" fill-opacity="0.09"/><rect x="430.81" y="155" width="3.6" height="1" fill="#000" fill-opacity="0.58"/><rect x="430.81" y="156" width="3.6" height="1" fill="#000" fill-opacity="0.27"/><rect x="436.11" y="154" width="3.7" height="1" fill="#000" fill-opacity="0.09"/><rect x="436.11" y="155" width="3.7" height="1" fill="#000" fill-opacity="0.58"/><rect x="436.11" y="156" width="3.7" height="1" fill="#000" fill-opacity="0.27"/><rect x="298.3" y="137" width="220.95" height="1" fill="#000" fill-opacity="0.13"/><rect x="298.3" y="138" width="220.95" height="1" fill="#000" fill-opacity="0.61"/><rect x="298.3" y="139" width="220.95" height="1" fill="#000" fill-opacity="0.22"/><rect x="298.3" y="221" width="220.95" height="1" fill="#000" fill-opacity="0.13"/><rect x="298.3" y="222" width="220.95" height="1" fill="#000" fill-opacity="0.61"/><rect x="298.3" y="223" width="220.95" height="1" fill="#000" fill-opacity="0.22"/><rect x="297" y="139.1" width="1" height="83" fill="#000" fill-opacity="0.07"/><rect x="298" y="139.1" width="1" height="83" fill="#000" fill-opacity="0.60"/><rect x="299" y="139.1" width="1" height="83" fill="#000" fill-opacity="0.36"/><rect x="517" y="139.1" width="1" height="83" fill="#000" fill-opacity="0.09"/><rect x="518" y="139.1" width="1" height="83" fill="#000" fill-opacity="0.66"/><rect x="519" y="139.1" width="1" height="83" fill="#000" fill-opacity="0.35"/></g>
<g><text x="265.85" y="137.8" style="font-size:11px;font-weight:bold">D</text><text transform="translate(288.95 219.45) rotate(-90)" text-anchor="middle" class="t">0.0</text><text transform="translate(288.95 188.25) rotate(-90)" text-anchor="middle" class="t">0.4</text><text transform="translate(288.95 157.05) rotate(-90)" text-anchor="middle" class="t">0.8</text><text x="298.65" y="237.7" text-anchor="middle" class="t">0</text><text x="324.3" y="237.7" text-anchor="middle" class="t">12</text><text x="349.95" y="237.7" text-anchor="middle" class="t">24</text><text x="375.6" y="237.7" text-anchor="middle" class="t">36</text><text x="401.25" y="237.7" text-anchor="middle" class="t">48</text><text x="426.9" y="237.7" text-anchor="middle" class="t">60</text><text x="452.55" y="237.7" text-anchor="middle" class="t">72</text><text x="478.2" y="237.7" text-anchor="middle" class="t">84</text><text x="503.85" y="237.7" text-anchor="middle" class="t">96</text><text x="408.75" y="254.5" text-anchor="middle">Time from Diagnosis (Months)</text><text transform="translate(271.95 180.5) rotate(-90)" text-anchor="middle">Event-Free Survival</text><text x="445.71" y="149.5">Normal Range CXCL9</text><text x="445.71" y="158.1">Elevated CXCL9</text><path d="M298.9 141.45 L302.3 142.4 L302.8 144.3 L304.3 148.2 L307.7 150.6 L310.6 154.5 L314.5 155.5 L318.4 157.4 L320 159.2 L322.3 159.9 L325.2 160.8 L325.8 161.8 L329.7 164.2 L333.6 167.6 L337.5 172.5 L340.4 174 L347.2 174.5 L350.2 176.4 L353.9 177.8 L355.8 180.6 L364.6 181.5 L367.5 182.5 L369.5 184 L373.3 184.9 L378.2 187.4 L381.6 187.4 L384 188.3 L384.9 189.7 L387.3 191.1 L392.2 191.1 L394.6 192.6 L396 193.1 L411 193.1 L411 197.9 L420.9 197.9 L420.9 200.8 L438 200.8 L438 203.3 L440.4 203.3 L440.4 206.7 L467.8 206.7 L467.8 212.6 L491.1 212.6" fill="none" stroke="#111" stroke-width="1.15" stroke-dasharray="3.4 2.2"/><path d="M326.1 159.2v5.2M370.7 182.3v5.2M373.6 182.3v5.2M381.9 184.8v5.2M387.6 188.5v5.2M389.5 188.5v5.2M392.5 188.5v5.2M410.9 190.5v5.2M434.7 198.2v5.2M452.4 204.1v5.2M456.3 204.1v5.2M489 210v5.2" fill="none" stroke="#111" stroke-width="1.15"/><path d="M323.9 161.8h4.4M368.5 184.9h4.4M371.4 184.9h4.4M379.7 187.4h4.4M385.4 191.1h4.4M387.3 191.1h4.4M390.3 191.1h4.4M408.7 193.1h4.4M432.5 200.8h4.4M450.2 206.7h4.4M454.1 206.7h4.4M486.8 212.6h4.4" fill="none" stroke="#111" stroke-width="1.05"/><path d="M298.9 141.45 L303.8 141.45 L306.7 142.8 L309.6 143.8 L313.5 145.8 L316.4 147.7 L318.2 148.7 L321.5 149.4 L325.2 151.1 L330 152.6 L333 154.5 L336.9 156.5 L339.5 157.4 L341.7 158.4 L345.6 160.3 L349.2 161.8 L351.1 163.8 L357 164.5 L362.8 165.4 L366.5 167.4 L369 168.9 L370.9 168.9 L375.3 169.4 L378.7 169.5 L382.1 170.4 L385.5 170.8 L387.9 173.8 L389.5 175.7 L390.9 175.9 L393.8 176.7 L397.7 177.6 L403 178 L407.7 180 L409.2 180.9 L413.1 182.3 L453.1 182.3 L454 184.2 L457.5 186.1 L459.9 188.4 L466.9 188.4 L466.9 191.2 L478.6 191.2 L478.6 194.2 L487.9 194.2 L487.9 198.7 L512.7 198.7" fill="none" stroke="#111" stroke-width="1.15"/><path d="M318.5 146.1v5.2M321.8 146.8v5.2M351.4 161.2v5.2M355.8 161.7v5.2M357.3 161.9v5.2M362.9 162.7v5.2M369.3 166.3v5.2M371.2 166.3v5.2M375.6 166.8v5.2M377.1 166.8v5.2M379 166.9v5.2M383.9 168.1v5.2M385.8 168.2v5.2M389.2 172.6v5.2M391.2 173.3v5.2M398 175v5.2M401.2 175.3v5.2M403.2 175.4v5.2M410.1 178.5v5.2M415.3 179.7v5.2M421.8 179.7v5.2M427.1 179.7v5.2M428.6 179.7v5.2M430 179.7v5.2M431.5 179.7v5.2M436.8 179.7v5.2M438.3 179.7v5.2M439.8 179.7v5.2M441.2 179.7v5.2M442.7 179.7v5.2M448 179.7v5.2M449.5 179.7v5.2M450.9 179.7v5.2M456.8 182v5.2M464.6 185.8v5.2M471.1 188.6v5.2M472.6 188.6v5.2M475.5 188.6v5.2M481.3 191.6v5.2M488.2 196.1v5.2M494 196.1v5.2M498.9 196.1v5.2M510 196.1v5.2" fill="none" stroke="#111" stroke-width="1.15"/><path d="M316.3 148.7h4.4M319.6 149.4h4.4M349.2 163.8h4.4M353.6 164.3h4.4M355.1 164.5h4.4M360.7 165.3h4.4M367.1 168.9h4.4M369 168.9h4.4M373.4 169.4h4.4M374.9 169.4h4.4M376.8 169.5h4.4M381.7 170.7h4.4M383.6 170.8h4.4M387 175.2h4.4M389 175.9h4.4M395.8 177.6h4.4M399 177.9h4.4M401 178h4.4M407.9 181.1h4.4M413.1 182.3h4.4M419.6 182.3h4.4M424.9 182.3h4.4M426.4 182.3h4.4M427.8 182.3h4.4M429.3 182.3h4.4M434.6 182.3h4.4M436.1 182.3h4.4M437.6 182.3h4.4M439 182.3h4.4M440.5 182.3h4.4M445.8 182.3h4.4M447.3 182.3h4.4M448.7 182.3h4.4M454.6 184.6h4.4M462.4 188.4h4.4M468.9 191.2h4.4M470.4 191.2h4.4M473.3 191.2h4.4M479.1 194.2h4.4M486 198.7h4.4M491.8 198.7h4.4M496.7 198.7h4.4M507.8 198.7h4.4" fill="none" stroke="#111" stroke-width="1.05"/></g>
</svg></body></html>
